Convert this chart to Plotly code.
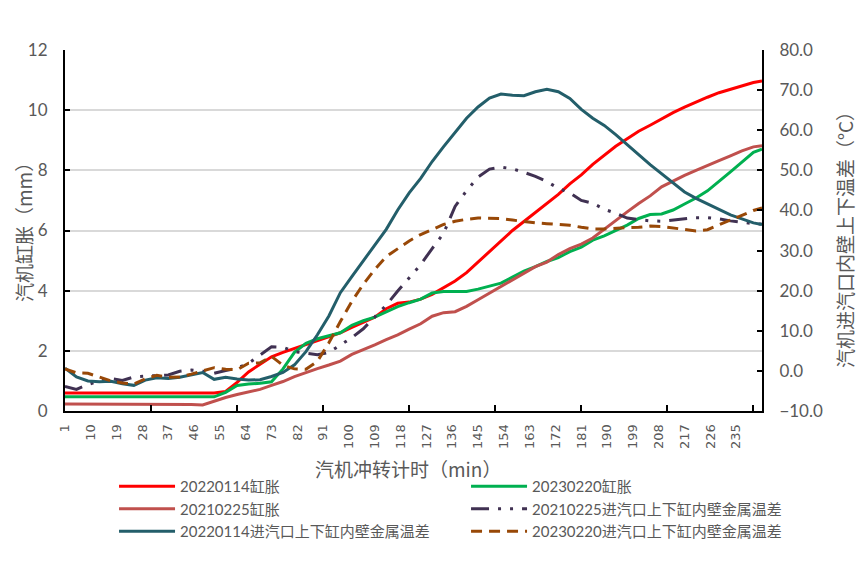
import plotly.graph_objects as go

minutes = [1, 5, 9, 13, 17, 21, 25, 29, 33, 37, 41, 45, 49, 53, 57, 61, 65, 69, 73, 77,
           81, 85, 89, 93, 97, 101, 105, 109, 113, 117, 121, 125, 129, 133, 137, 141, 145, 149, 153, 157,
           161, 165, 169, 173, 177, 181, 185, 189, 193, 197, 201, 205, 209, 213, 217, 221, 225, 229, 233, 237,
           241, 244]

exp_20220114 = [0.60, 0.60, 0.60, 0.60, 0.58, 0.60, 0.58, 0.60, 0.58, 0.58, 0.58, 0.58, 0.58, 0.60, 0.65, 0.95, 1.30, 1.55, 1.80, 1.95,
                2.08, 2.20, 2.33, 2.45, 2.60, 2.78, 2.95, 3.12, 3.40, 3.58, 3.62, 3.72, 3.88, 4.10, 4.32, 4.60, 4.95, 5.30, 5.68, 6.00,
                6.30, 6.60, 6.88, 7.20, 7.55, 7.85, 8.20, 8.50, 8.80, 9.05, 9.30, 9.50, 9.72, 9.92, 10.10, 10.27, 10.43, 10.58, 10.70, 10.82,
                10.92, 10.97]

exp_20230220 = [0.47, 0.47, 0.47, 0.47, 0.47, 0.47, 0.47, 0.47, 0.47, 0.47, 0.47, 0.47, 0.47, 0.47, 0.62, 0.85, 0.90, 0.92, 0.97, 1.40,
                1.95, 2.25, 2.40, 2.50, 2.60, 2.85, 3.00, 3.12, 3.30, 3.47, 3.60, 3.72, 3.92, 3.97, 3.97, 3.97, 4.05, 4.15, 4.25, 4.45,
                4.65, 4.80, 4.97, 5.10, 5.30, 5.45, 5.68, 5.82, 6.00, 6.18, 6.40, 6.53, 6.55, 6.68, 6.88, 7.08, 7.32, 7.65, 7.95, 8.27,
                8.60, 8.70]

exp_20210225 = [0.23, 0.23, 0.23, 0.23, 0.23, 0.23, 0.23, 0.23, 0.23, 0.23, 0.23, 0.22, 0.20, 0.33, 0.45, 0.55, 0.64, 0.72, 0.85, 0.98,
                1.14, 1.28, 1.41, 1.53, 1.66, 1.88, 2.03, 2.20, 2.37, 2.53, 2.72, 2.90, 3.15, 3.27, 3.30, 3.48, 3.70, 3.92, 4.15, 4.38,
                4.60, 4.80, 4.95, 5.20, 5.40, 5.55, 5.75, 6.05, 6.35, 6.62, 6.90, 7.15, 7.45, 7.65, 7.83, 8.00, 8.15, 8.32, 8.48, 8.65,
                8.78, 8.82]

dt_20220114 = [0.7, -1.5, -2.5, -2.7, -2.6, -3.2, -3.6, -2.3, -1.7, -1.9, -1.6, -1.0, -0.4, -2.1, -1.6, -2.0, -2.3, -2.2, -1.4, -0.4,
               1.5, 4.8, 9.0, 13.7, 19.5, 23.5, 27.4, 31.3, 35.3, 40.1, 44.4, 48.0, 52.2, 55.9, 59.6, 63.0, 65.8, 68.0, 69.0, 68.7,
               68.6, 69.6, 70.2, 69.6, 67.9, 65.2, 63.0, 61.2, 58.9, 56.3, 53.9, 51.4, 49.1, 46.8, 44.6, 43.0, 41.6, 40.2, 38.9, 37.9,
               36.9, 36.5]

dt_20210225 = [-3.9, -4.6, -3.4, -2.5, -1.9, -2.4, -1.5, -1.3, -1.2, -1.0, -0.1, 0.2, -0.1, -0.6, 0.1, 0.7, 1.9, 3.9, 6.0, 5.9,
               4.8, 4.4, 4.0, 4.6, 6.5, 8.3, 10.5, 13.5, 16.4, 19.9, 23.3, 26.5, 30.5, 34.3, 41.0, 44.9, 48.3, 50.3, 50.8, 50.4,
               49.5, 48.5, 47.2, 45.5, 44.4, 42.5, 41.8, 40.3, 39.3, 38.1, 37.7, 37.4, 37.3, 37.6, 37.9, 38.2, 38.2, 37.9, 37.4, 37.0,
               36.7, 36.6]

dt_20230220 = [0.5, -0.5, -0.6, -1.5, -2.5, -3.0, -3.3, -2.0, -1.1, -1.6, -1.5, -0.8, 0.0, 0.8, 0.4, 0.3, 1.9, 2.0, 3.6, 1.4,
               0.5, 0.4, 2.4, 7.0, 12.3, 17.3, 21.6, 25.3, 28.5, 30.5, 32.4, 34.0, 35.3, 36.5, 37.3, 37.8, 38.1, 38.1, 38.0, 37.6,
               37.2, 36.9, 36.7, 36.5, 36.3, 35.8, 35.4, 35.4, 35.6, 35.7, 35.8, 36.1, 36.0, 35.6, 35.2, 34.9, 35.2, 36.5, 37.6, 38.8,
               40.0, 40.6]

x_tick_labels = list(range(1, 240, 9))
x_minor_ticks = list(range(31, 244, 30))

GRAY = "#595959"
FONT = "Lato, 'Noto Sans CJK SC', sans-serif"
CJK = "'Noto Sans CJK SC', Lato, sans-serif"

fig = go.Figure()
fig.add_trace(go.Scatter(x=minutes, y=exp_20220114, name="20220114缸胀", mode="lines",
                         line=dict(color="#FF0000", width=3)))
fig.add_trace(go.Scatter(x=minutes, y=exp_20230220, name="20230220缸胀", mode="lines",
                         line=dict(color="#00B050", width=3)))
fig.add_trace(go.Scatter(x=minutes, y=exp_20210225, name="20210225缸胀", mode="lines",
                         line=dict(color="#C0504D", width=3)))
fig.add_trace(go.Scatter(x=minutes, y=dt_20210225, name="20210225进汽口上下缸内壁金属温差", mode="lines",
                         yaxis="y2", line=dict(color="#403152", width=3, dash="18px,9px,3px,9px,3px,9px")))
fig.add_trace(go.Scatter(x=minutes, y=dt_20220114, name="20220114进汽口上下缸内壁金属温差", mode="lines",
                         yaxis="y2", line=dict(color="#235E6A", width=3)))
fig.add_trace(go.Scatter(x=minutes, y=dt_20230220, name="20230220进汽口上下缸内壁金属温差", mode="lines",
                         yaxis="y2", line=dict(color="#984807", width=3, dash="11px,7px")))

fig.update_layout(
    width=859, height=555,
    margin=dict(l=57, r=105, t=42, b=152, autoexpand=False),
    paper_bgcolor="white", plot_bgcolor="white",
    font=dict(family=FONT, color=GRAY, size=15),
    showlegend=True,
    legend=dict(orientation="h", x=1.0804, y=-0.1637, xanchor="right", yanchor="top",
                entrywidth=281, entrywidthmode="pixels", itemwidth=56,
                font=dict(family=FONT, size=15, color=GRAY), bgcolor="rgba(0,0,0,0)"),
    xaxis=dict(range=[1, 244], tickmode="array", tickvals=x_tick_labels,
               ticktext=[str(v) for v in x_tick_labels], tickangle=-90, ticks="",
               tickfont=dict(family="'DejaVu Sans', sans-serif", size=13, color=GRAY),
               ticklabelstandoff=6,
               showline=True, linecolor="black", linewidth=2, showgrid=False, zeroline=False,
               minor=dict(tickmode="array", tickvals=x_minor_ticks, ticks="inside", ticklen=6,
                          tickwidth=2, tickcolor="black", showgrid=False)),
    yaxis=dict(range=[0, 12], dtick=2, tick0=0, ticks="inside", ticklen=5, tickwidth=2, tickcolor="black",
               showline=True, linecolor="black", linewidth=2, showgrid=True, gridcolor="#D9D9D9", gridwidth=1.5,
               zeroline=False, tickfont=dict(size=17, color=GRAY), ticklabelstandoff=12),
    yaxis2=dict(range=[-10, 80], dtick=10, tick0=-10, overlaying="y", side="right", tickformat=".1f",
                ticks="inside", ticklen=5, tickwidth=2, tickcolor="black",
                showline=True, linecolor="black", linewidth=2, showgrid=False, zeroline=False,
                tickfont=dict(size=17, color=GRAY), ticklabelstandoff=12),
    annotations=[
        dict(text="汽机缸胀（mm）", xref="paper", yref="paper", x=-0.0588, y=0.507, textangle=-90,
             showarrow=False, font=dict(family=CJK, size=19, color=GRAY), xanchor="center", yanchor="middle"),
        dict(text="汽机进汽口内壁上下温差（°C）", xref="paper", yref="paper", x=1.1177, y=0.4875, textangle=-90,
             showarrow=False, font=dict(family=CJK, size=19, color=GRAY), xanchor="center", yanchor="middle"),
        dict(text="汽机冲转计时（min）", xref="paper", yref="paper", x=0.4914, y=-0.158,
             showarrow=False, font=dict(family=CJK, size=19, color=GRAY), xanchor="center", yanchor="middle"),
    ],
)

fig.write_html("out.html")
